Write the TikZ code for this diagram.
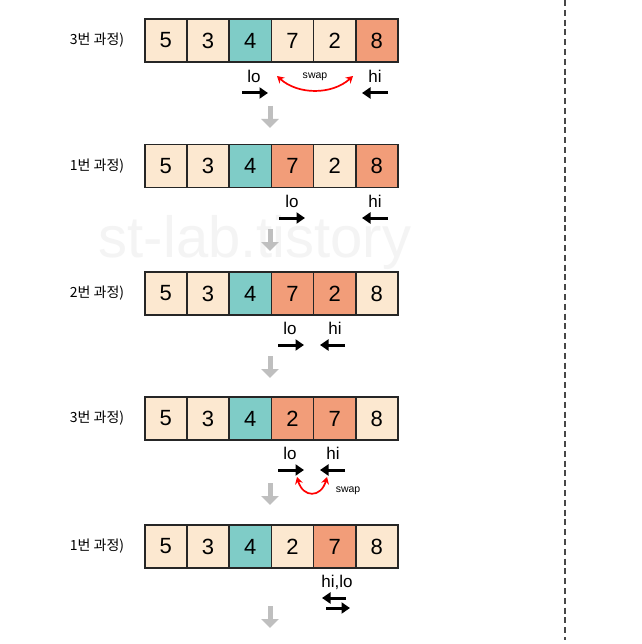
\documentclass[tikz,border=0pt]{standalone}
\usepackage{fontspec}
\setmainfont{Liberation Sans}
\newfontfamily\krfont{Noto Sans CJK KR}
\usetikzlibrary{arrows.meta}
\definecolor{beige}{HTML}{FCE8D0}
\definecolor{tealc}{HTML}{7FCCC7}
\definecolor{salmon}{HTML}{F29D79}
\definecolor{edge}{HTML}{262626}
\definecolor{grayarr}{HTML}{BFBFBF}
\definecolor{wmark}{HTML}{F4F4F4}
\tikzset{
  cell/.style={draw=edge, line width=1.5pt, minimum width=42.2pt, minimum height=43pt,
    inner sep=0pt, anchor=west, font=\fontsize{22}{22}\selectfont},
  steplabel/.style={font=\krfont\fontsize{14}{14}\selectfont, anchor=center},
  ptrlabel/.style={font=\fontsize{17}{17}\selectfont, anchor=center},
  swaplabel/.style={font=\fontsize{10.5}{10.5}\selectfont, anchor=center},
  ptr/.style={line width=3pt, -{Triangle[length=8.5pt,width=11pt]}},
  down/.style={draw=grayarr, line width=5pt, -{Triangle[length=9pt,width=17pt]}, grayarr},
  swapcurve/.style={draw=red, line width=1.7pt, {Stealth[length=7pt,width=8pt]}-{Stealth[length=7pt,width=8pt]}},
}
\begin{document}
\begin{tikzpicture}[x=1pt,y=-1pt]
\useasboundingbox (0,0) rectangle (641,644);
\fill[white] (0,0) rectangle (641,644);
% watermark
\node[font=\fontsize{58}{58}\selectfont, text=wmark] (wm) at (255,243) {st-lab.tistory};
% dashed separator
\coordinate (dtop) at (565,0);
\coordinate (dbot) at (565,640);
\draw[color=edge!85, line width=1.8pt, dash pattern=on 6pt off 3.8pt] (dtop) -- (dbot);

% rows
\foreach \r/\y/\lab/\vals in {
  1/40.5/{3번 과정)}/{5/beige,3/beige,4/tealc,7/beige,2/beige,8/salmon},
  2/166/{1번 과정)}/{5/beige,3/beige,4/tealc,7/salmon,2/beige,8/salmon},
  3/293.5/{2번 과정)}/{5/beige,3/beige,4/tealc,7/salmon,2/salmon,8/beige},
  4/418.5/{3번 과정)}/{5/beige,3/beige,4/tealc,2/salmon,7/salmon,8/beige},
  5/546.5/{1번 과정)}/{5/beige,3/beige,4/tealc,2/beige,7/salmon,8/beige}}{
  \node[steplabel] (lab\r) at (97,\y) {\lab};
  \foreach [count=\c] \v/\col in \vals {
    \node[cell, fill=\col] (r\r c\c) at ({144+(\c-1)*42.2},\y) {\v};
  }
}

% ---- row 1 pointers
\node[ptrlabel] (lo1) at (254,76) {lo};
\node[ptrlabel] (hi1) at (375,76) {hi};
\coordinate (lo1a) at (242,93); \coordinate (lo1b) at (268,93);
\coordinate (hi1a) at (388,93); \coordinate (hi1b) at (362,93);
\draw[ptr] (lo1a) -- (lo1b);
\draw[ptr] (hi1a) -- (hi1b);
\coordinate (sw1a) at (277,76); \coordinate (sw1b) at (353,76);
\draw[swapcurve] (sw1a) .. controls (298,95) and (332,95) .. (sw1b);
\node[swaplabel] (sw1) at (315,77) {swap};
\coordinate (d1a) at (270,106); \coordinate (d1b) at (270,128);
\draw[down] (d1a) -- (d1b);

% ---- row 2
\node[ptrlabel] (lo2) at (292,201) {lo};
\node[ptrlabel] (hi2) at (375,201) {hi};
\coordinate (lo2a) at (279,218); \coordinate (lo2b) at (305,218);
\coordinate (hi2a) at (388,218); \coordinate (hi2b) at (362,218);
\draw[ptr] (lo2a) -- (lo2b);
\draw[ptr] (hi2a) -- (hi2b);
\coordinate (d2a) at (270,229); \coordinate (d2b) at (270,251);
\draw[down] (d2a) -- (d2b);

% ---- row 3
\node[ptrlabel] (lo3) at (290,328) {lo};
\node[ptrlabel] (hi3) at (335,328) {hi};
\coordinate (lo3a) at (278,345); \coordinate (lo3b) at (304,345);
\coordinate (hi3a) at (345,345); \coordinate (hi3b) at (320,345);
\draw[ptr] (lo3a) -- (lo3b);
\draw[ptr] (hi3a) -- (hi3b);
\coordinate (d3a) at (270,356); \coordinate (d3b) at (270,378);
\draw[down] (d3a) -- (d3b);

% ---- row 4
\node[ptrlabel] (lo4) at (290,453) {lo};
\node[ptrlabel] (hi4) at (333,453) {hi};
\coordinate (lo4a) at (278,470); \coordinate (lo4b) at (304,470);
\coordinate (hi4a) at (345,470); \coordinate (hi4b) at (320,470);
\draw[ptr] (lo4a) -- (lo4b);
\draw[ptr] (hi4a) -- (hi4b);
\coordinate (sw4a) at (297,477); \coordinate (sw4b) at (327,477);
\draw[swapcurve] (sw4a) .. controls (303,498) and (321,498) .. (sw4b);
\node[swaplabel] (sw4) at (348,491) {swap};
\coordinate (d4a) at (270,483); \coordinate (d4b) at (270,505);
\draw[down] (d4a) -- (d4b);

% ---- row 5
\node[ptrlabel] (hl5) at (337,582) {hi,lo};
\coordinate (h5a) at (346,598); \coordinate (h5b) at (322,598);
\coordinate (l5a) at (326,608); \coordinate (l5b) at (350,608);
\draw[ptr] (h5a) -- (h5b);
\draw[ptr] (l5a) -- (l5b);
\coordinate (d5a) at (270,606); \coordinate (d5b) at (270,628);
\draw[down] (d5a) -- (d5b);
\end{tikzpicture}
\end{document}
